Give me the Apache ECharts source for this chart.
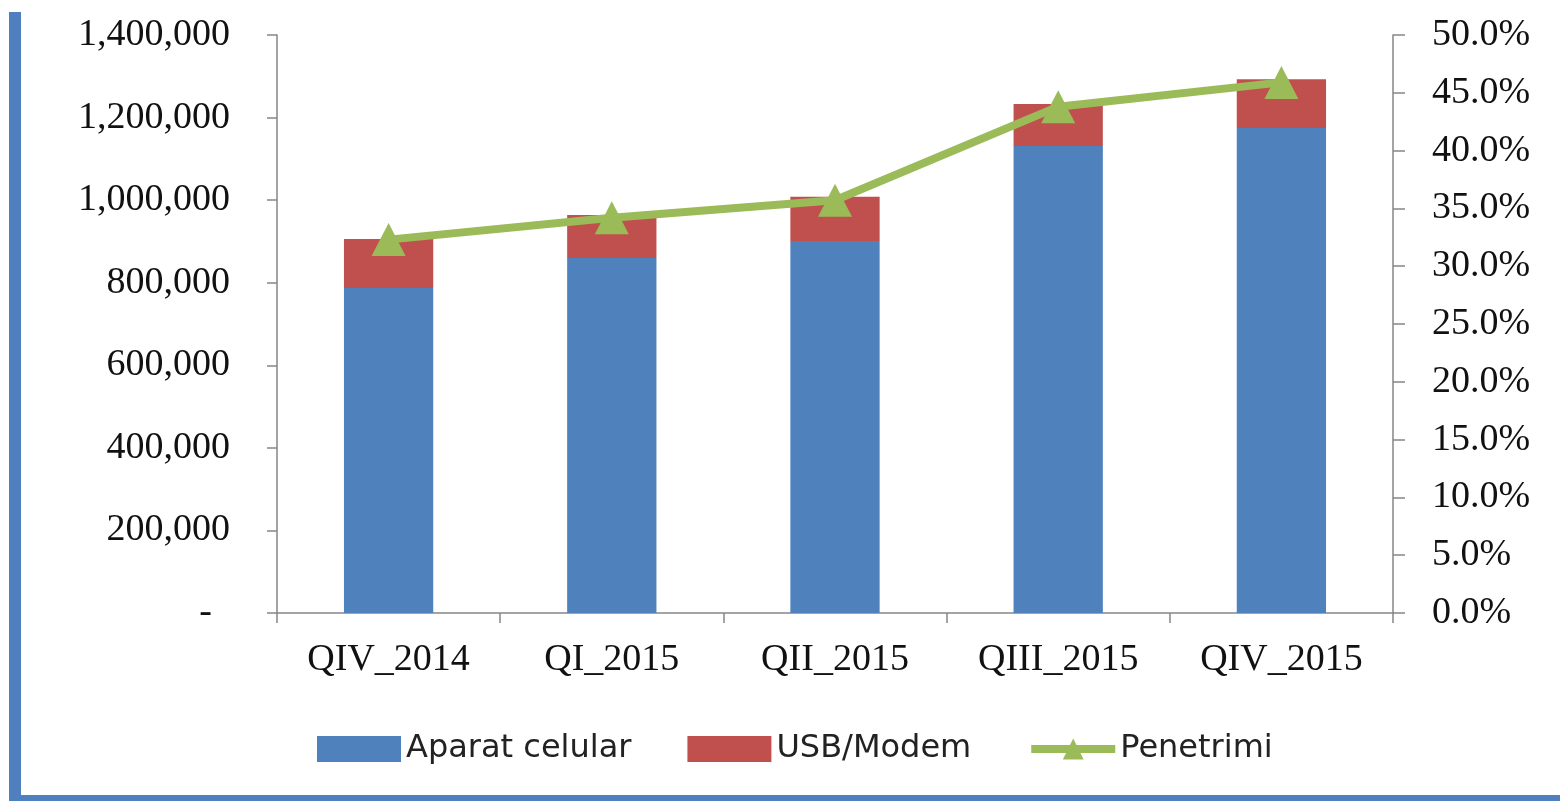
<!DOCTYPE html>
<html>
<head>
<meta charset="utf-8">
<script src="https://cdn.jsdelivr.net/npm/echarts@6/dist/echarts.min.js"></script>
<style>
html,body{margin:0;padding:0;background:#fff;}
#chart{width:1560px;height:801px;}
</style>
</head>
<body>
<div id="chart"></div>
<script>
const categories = ['QIV_2014', 'QI_2015', 'QII_2015', 'QIII_2015', 'QIV_2015'];
const aparatCelular = [787000, 860000, 901000, 1131000, 1175000];
const usbModem = [119000, 104000, 107000, 102000, 118000];
const penetrimi = [32.3, 34.2, 35.7, 43.8, 45.9];
const leftTicks = { min: 0, max: 1400000, interval: 200000 };
const rightTicks = { min: 0, max: 50, interval: 5 };

const axisColor = '#868686';
const serif = 'Liberation Serif';
const chart = echarts.init(document.getElementById('chart'), null, { renderer: 'canvas' });
chart.setOption({
  backgroundColor: '#ffffff',
  animation: false,
  grid: { left: 277, right: 167, top: 35, bottom: 188, containLabel: false },
  legend: {
    left: 312, top: 728,
    itemWidth: 84, itemHeight: 26, itemGap: 56,
    textStyle: { fontFamily: 'DejaVu Sans', fontSize: 32, color: '#222' },
    data: [
      { name: 'Aparat celular', icon: 'rect' },
      { name: 'USB/Modem', icon: 'rect' },
      { name: 'Penetrimi', lineStyle: { width: 8 } }
    ]
  },
  graphic: [
    { type: 'rect', left: 9, top: 12, shape: { width: 12, height: 789 }, style: { fill: '#4F7FBE' } },
    { type: 'rect', left: 9, top: 795, shape: { width: 1551, height: 6 }, style: { fill: '#4F7FBE' } }
  ],
  xAxis: {
    type: 'category',
    data: categories,
    axisLine: { lineStyle: { color: axisColor, width: 1.5 } },
    axisTick: { show: true, length: 10, lineStyle: { color: axisColor, width: 1.5 } },
    axisLabel: { fontFamily: serif, fontSize: 38, color: '#111', margin: 28 }
  },
  yAxis: [
    {
      type: 'value', min: leftTicks.min, max: leftTicks.max, interval: leftTicks.interval,
      splitLine: { show: false },
      axisLine: { show: true, lineStyle: { color: axisColor, width: 1.5 } },
      axisTick: { show: true, length: 10, lineStyle: { color: axisColor, width: 1.5 } },
      axisLabel: {
        fontFamily: serif, fontSize: 38, color: '#111', margin: 47,
        formatter: v => v === 0 ? '{d|-}' : v.toLocaleString('en-US'),
        rich: { d: { fontFamily: serif, fontSize: 38, color: '#111', padding: [0, 18, 0, 0] } }
      }
    },
    {
      type: 'value', position: 'right', min: rightTicks.min, max: rightTicks.max, interval: rightTicks.interval,
      splitLine: { show: false },
      axisLine: { show: true, lineStyle: { color: axisColor, width: 1.5 } },
      axisTick: { show: true, length: 12, lineStyle: { color: axisColor, width: 1.5 } },
      axisLabel: {
        fontFamily: serif, fontSize: 38, color: '#111', margin: 39,
        formatter: v => v.toFixed(1) + '%'
      }
    }
  ],
  series: [
    {
      name: 'Aparat celular', type: 'bar', stack: 'total', data: aparatCelular,
      barWidth: '40%', itemStyle: { color: '#4F81BD' }
    },
    {
      name: 'USB/Modem', type: 'bar', stack: 'total', data: usbModem,
      barWidth: '40%', itemStyle: { color: '#C0504D' }
    },
    {
      name: 'Penetrimi', type: 'line', yAxisIndex: 1, data: penetrimi,
      symbol: 'triangle', symbolSize: [34, 33],
      lineStyle: { color: '#9BBB59', width: 8 },
      itemStyle: { color: '#9BBB59' }, z: 5
    }
  ]
});
</script>
</body>
</html>
